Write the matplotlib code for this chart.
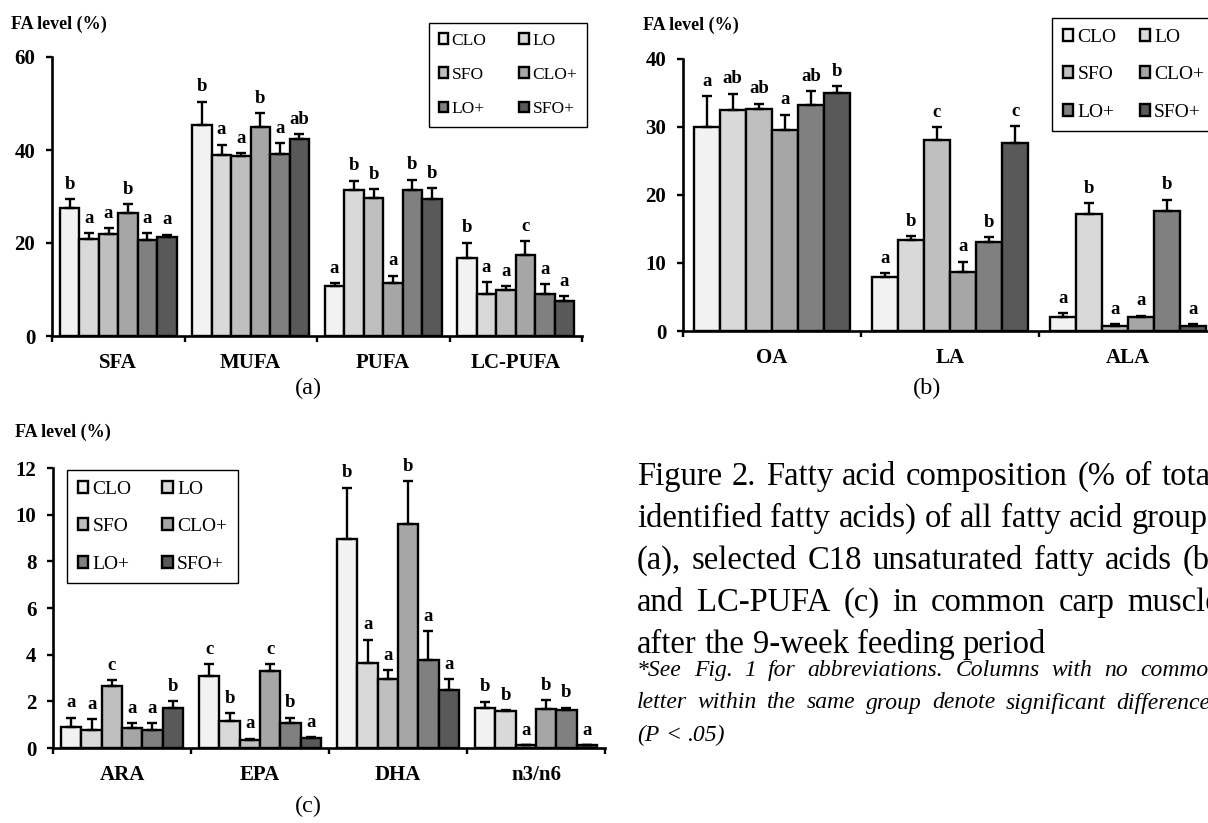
import matplotlib
matplotlib.use('Agg')
import matplotlib.pyplot as plt
import numpy as np
from matplotlib.patches import Patch

plt.rcParams['font.family'] = 'serif'
plt.rcParams['font.serif'] = ['Liberation Serif', 'DejaVu Serif']

W, H = 1208, 823

series = ['CLO', 'LO', 'SFO', 'CLO+', 'LO+', 'SFO+']
colors = ['#f2f2f2', '#d9d9d9', '#bfbfbf', '#a6a6a6', '#808080', '#595959']

# ---- panel (a): fatty acid groups ----
groups_a = ['SFA', 'MUFA', 'PUFA', 'LC-PUFA']
means_a = [
    [27.5, 45.3, 10.7, 16.8],   # CLO
    [20.9, 38.9, 31.3, 9.1],    # LO
    [21.9, 38.8, 29.6, 9.8],    # SFO
    [26.4, 44.9, 11.3, 17.5],   # CLO+
    [20.6, 39.1, 31.4, 9.1],    # LO+
    [21.3, 42.3, 29.4, 7.6],    # SFO+
]
err_a = [
    [1.9, 5.1, 0.7, 3.3],
    [1.2, 2.2, 2.1, 2.5],
    [1.3, 0.5, 2.0, 0.9],
    [2.0, 3.0, 1.7, 2.9],
    [1.5, 2.3, 2.2, 2.1],
    [0.5, 1.1, 2.4, 1.0],
]
letters_a = [
    ['b', 'b', 'a', 'b'],
    ['a', 'a', 'b', 'a'],
    ['a', 'a', 'b', 'a'],
    ['b', 'b', 'a', 'c'],
    ['a', 'a', 'b', 'a'],
    ['a', 'ab', 'b', 'a'],
]

# ---- panel (b): C18 unsaturated fatty acids ----
groups_b = ['OA', 'LA', 'ALA']
means_b = [
    [30.0, 8.0, 2.1],
    [32.5, 13.4, 17.2],
    [32.7, 28.1, 0.8],
    [29.6, 8.7, 2.0],
    [33.2, 13.1, 17.7],
    [35.0, 27.7, 0.8],
]
err_b = [
    [4.5, 0.5, 0.5],
    [2.4, 0.5, 1.6],
    [0.7, 1.9, 0.2],
    [2.2, 1.5, 0.25],
    [2.1, 0.7, 1.6],
    [1.0, 2.4, 0.2],
]
letters_b = [
    ['a', 'a', 'a'],
    ['ab', 'b', 'b'],
    ['ab', 'c', 'a'],
    ['a', 'a', 'a'],
    ['ab', 'b', 'b'],
    ['b', 'c', 'a'],
]

# ---- panel (c): LC-PUFA ----
groups_c = ['ARA', 'EPA', 'DHA', 'n3/n6']
means_c = [
    [0.90, 3.09, 8.95, 1.72],
    [0.76, 1.16, 3.65, 1.58],
    [2.65, 0.36, 2.95, 0.11],
    [0.86, 3.31, 9.61, 1.66],
    [0.76, 1.09, 3.77, 1.65],
    [1.73, 0.43, 2.48, 0.11],
]
err_c = [
    [0.39, 0.49, 2.20, 0.26],
    [0.47, 0.32, 1.00, 0.04],
    [0.26, 0.04, 0.39, 0.02],
    [0.21, 0.27, 1.82, 0.39],
    [0.31, 0.21, 1.24, 0.08],
    [0.27, 0.04, 0.46, 0.02],
]
letters_c = [
    ['a', 'c', 'b', 'b'],
    ['a', 'b', 'a', 'b'],
    ['c', 'a', 'a', 'a'],
    ['a', 'c', 'b', 'b'],
    ['a', 'b', 'a', 'b'],
    ['b', 'a', 'a', 'a'],
]

ylabel = 'FA level (%)'
caption_lines = [
    'Figure 2. Fatty acid composition (% of total',
    'identified fatty acids) of all fatty acid groups',
    '(a), selected C18 unsaturated fatty acids (b)',
    'and LC-PUFA (c) in common carp muscle',
    'after the 9-week feeding period',
]
note_lines = [
    '*See Fig. 1 for abbreviations. Columns with no common',
    'letter within the same group denote significant differences',
    '(P < .05)',
]

fig = plt.figure(figsize=(W / 100, H / 100), dpi=100)


def fx(px):
    return px / W


def fy(py):
    return 1 - py / H


def panel(x0, x1, ybot, ytop, groups, means, errs, letters, ymax, ystep,
          leg_xy, leg_fs, leg_colsp):
    ax = fig.add_axes([fx(x0), fy(ybot), (x1 - x0) / W, (ybot - ytop) / H])
    n = len(groups)
    bw = 0.147
    base = np.arange(n) + 0.5
    for i in range(6):
        xs = base + (i - 2.5) * bw
        ax.bar(xs, means[i], bw, color=colors[i], edgecolor='black',
               linewidth=1.7, zorder=2)
        ax.errorbar(xs, means[i], yerr=[np.zeros(n), errs[i]], fmt='none',
                    ecolor='black', elinewidth=1.7, capsize=3.8,
                    capthick=1.7, zorder=3)
        for x, m, e, l in zip(xs, means[i], errs[i], letters[i]):
            ax.annotate(l, (x, m + e), xytext=(0, 7.5),
                        textcoords='offset points', ha='center',
                        va='baseline', fontsize=13.5, fontweight='bold')
    ax.set_xlim(0, n)
    ax.set_ylim(0, ymax)
    ax.set_yticks(np.arange(0, ymax + 0.01, ystep))
    ax.set_yticklabels([f'{v:g}' for v in np.arange(0, ymax + 0.01, ystep)],
                       fontsize=15, fontweight='bold')
    ax.set_xticks(np.arange(n + 1))
    ax.set_xticklabels([])
    ax.set_xticks(base, minor=True)
    ax.set_xticklabels(groups, minor=True, fontsize=15, fontweight='bold')
    ax.tick_params(axis='x', which='minor', length=0, pad=12)
    ax.tick_params(axis='x', which='major', length=4, width=1.7,
                   direction='out')
    ax.tick_params(axis='y', which='major', length=4, width=1.7,
                   direction='out', pad=8)
    for s in ['top', 'right']:
        ax.spines[s].set_visible(False)
    for s in ['left', 'bottom']:
        ax.spines[s].set_linewidth(1.9)
    ax.patch.set_alpha(0)
    order = [0, 2, 4, 1, 3, 5]
    handles = [Patch(facecolor=colors[k], edgecolor='black', linewidth=1.7,
                     label=series[k]) for k in order]
    leg = ax.legend(handles=handles, loc='upper left',
                    bbox_to_anchor=(fx(leg_xy[0]), fy(leg_xy[1])),
                    bbox_transform=fig.transFigure, ncol=2, frameon=True,
                    fancybox=False, framealpha=1, edgecolor='black',
                    borderpad=0.55, labelspacing=1.05, handlelength=0.55,
                    handleheight=0.55, handletextpad=0.2,
                    columnspacing=leg_colsp, borderaxespad=0,
                    prop={'size': leg_fs})
    leg.get_frame().set_linewidth(1.0)
    return ax


panel(52, 582, 336, 57, groups_a, means_a, err_a, letters_a, 60, 20,
      (429, 23), 12.5, 1.9)
panel(683, 1217, 331, 59, groups_b, means_b, err_b, letters_b, 40, 10,
      (1052, 18), 14, 1.2)
panel(53, 605, 748, 468, groups_c, means_c, err_c, letters_c, 12, 2,
      (67, 470), 14, 1.6)

lab = dict(fontsize=13, fontweight='bold', va='center', ha='left')
fig.text(fx(11), fy(24), ylabel, **lab)
fig.text(fx(643), fy(25), ylabel, **lab)
fig.text(fx(15), fy(432), ylabel, **lab)

fig.text(fx(308), fy(388), '(a)', fontsize=17.5, ha='center', va='center')
fig.text(fx(927), fy(388), '(b)', fontsize=17.5, ha='center', va='center')
fig.text(fx(308), fy(806), '(c)', fontsize=17.5, ha='center', va='center')

renderer = fig.canvas.get_renderer()


def justified(line, x0, x1, ybase, justify, **props):
    words = line.split(' ')
    texts = [fig.text(0, fy(ybase), w, va='baseline', ha='left', **props)
             for w in words]
    widths = [t.get_window_extent(renderer).width for t in texts]
    nat = props['fontsize'] * 100 / 72 * 0.25
    if justify and len(words) > 1:
        gap = (x1 - x0 - sum(widths)) / (len(words) - 1)
        gap = max(gap, nat)
    else:
        gap = nat
    x = x0
    for t, w in zip(texts, widths):
        t.set_x(fx(x))
        x += w + gap


for k, line in enumerate(caption_lines):
    justified(line, 637, 1220, 485 + 42 * k, k < len(caption_lines) - 1,
              fontsize=23.5)
for k, line in enumerate(note_lines):
    justified(line, 637, 1220, 676 + 32.5 * k, k < len(note_lines) - 1,
              fontsize=17, style='italic')

fig.savefig('out.png', dpi=100)
